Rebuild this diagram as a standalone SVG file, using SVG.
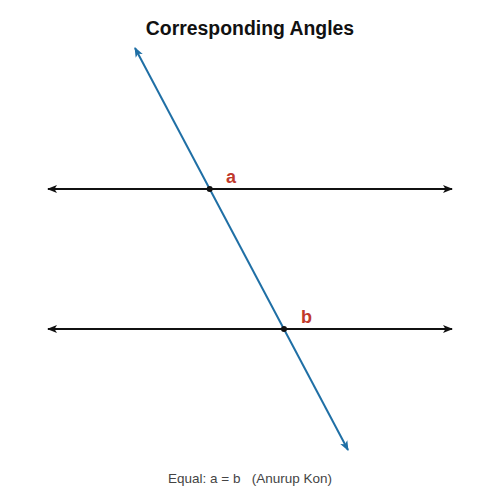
<svg xmlns="http://www.w3.org/2000/svg" width="500" height="500" viewBox="0 0 500 500">
<style>
.title{font-family:"Liberation Sans",Arial,sans-serif;font-weight:bold;font-size:19.4px;fill:#111}
.lbl{font-family:"Liberation Sans",Arial,sans-serif;font-weight:bold;font-size:18px;fill:#c0392b}
.cap{font-family:"Liberation Sans",Arial,sans-serif;font-size:13.5px;fill:#444;white-space:pre}
.hl{stroke:#111;stroke-width:2;fill:none}
.tl{stroke:#1f6fa5;stroke-width:2;fill:none}
</style>
<defs>
<marker id="ab" viewBox="0 0 10 10" refX="9" refY="5" markerWidth="5" markerHeight="5" orient="auto-start-reverse" markerUnits="strokeWidth"><path d="M0,1 L10,5 L0,9 L2.5,5 Z" fill="#111"/></marker>
<marker id="au" viewBox="0 0 10 10" refX="9" refY="5" markerWidth="5" markerHeight="5" orient="auto-start-reverse" markerUnits="strokeWidth"><path d="M0,1 L10,5 L0,9 L2.5,5 Z" fill="#1f6fa5"/></marker>
</defs>
<rect width="500" height="500" fill="#fff"/>
<text class="title" x="250" y="35" text-anchor="middle">Corresponding Angles</text>
<g id="connectors">
<line class="hl" x1="48" y1="189" x2="452" y2="189" marker-start="url(#ab)" marker-end="url(#ab)"/>
<line class="hl" x1="48" y1="329" x2="452" y2="329" marker-start="url(#ab)" marker-end="url(#ab)"/>
<line class="tl" x1="135" y1="48" x2="348" y2="450" marker-start="url(#au)" marker-end="url(#au)"/>
</g>
<g id="point-a">
<circle cx="209.7" cy="189" r="3" fill="#111"/>
<text class="lbl" x="226" y="183">a</text>
</g>
<g id="point-b">
<circle cx="284" cy="329" r="3" fill="#111"/>
<text class="lbl" x="301" y="323">b</text>
</g>
<text class="cap" x="250" y="483" text-anchor="middle" xml:space="preserve">Equal: a = b   (Anurup Kon)</text>
</svg>
